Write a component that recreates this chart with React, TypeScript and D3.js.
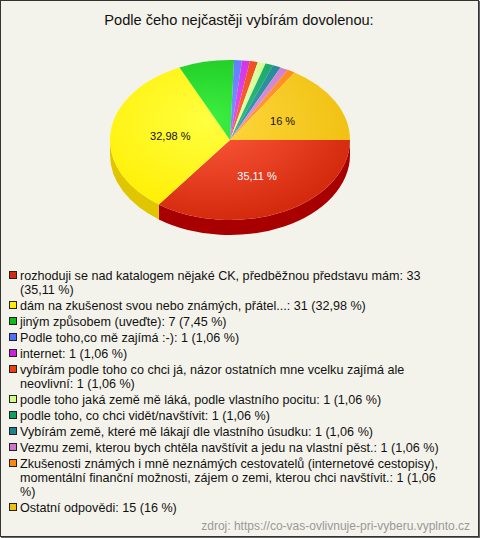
import React from "react";
import * as d3 from "d3";

const title = "Podle čeho nejčastěji vybírám dovolenou:";
const source = "zdroj: https://co-vas-ovlivnuje-pri-vyberu.vyplnto.cz";
// legend entries, split into the lines shown in the reference
const legendLines: string[][] = [
  ["rozhoduji se nad katalogem nějaké CK, předběžnou představu mám: 33", "(35,11 %)"],
  ["dám na zkušenost svou nebo známých, přátel...: 31 (32,98 %)"],
  ["jiným způsobem (uveďte): 7 (7,45 %)"],
  ["Podle toho,co mě zajímá :-): 1 (1,06 %)"],
  ["internet: 1 (1,06 %)"],
  ["vybírám podle toho co chci já, názor ostatních mne vcelku zajímá ale", "neovlivní: 1 (1,06 %)"],
  ["podle toho jaká země mě láká, podle vlastního pocitu: 1 (1,06 %)"],
  ["podle toho, co chci vidět/navštívit: 1 (1,06 %)"],
  ["Vybírám země, které mě lákají dle vlastního úsudku: 1 (1,06 %)"],
  ["Vezmu zemi, kterou bych chtěla navštívit a jedu na vlastní pěst.: 1 (1,06 %)"],
  ["Zkušenosti známých i mně neznámých cestovatelů (internetové cestopisy),", "momentální finanční možnosti, zájem o zemi, kterou chci navštívit.: 1 (1,06", "%)"],
  ["Ostatní odpovědi: 15 (16 %)"],
];
const counts = [33, 31, 7, 1, 1, 1, 1, 1, 1, 1, 1, 15];
const percents = [35.11, 32.98, 7.45, 1.06, 1.06, 1.06, 1.06, 1.06, 1.06, 1.06, 1.06, 16];
const colors = ["#d42a0e", "#ffee00", "#11bb1a", "#4f70ff", "#cc22dd", "#e84010", "#ccff88", "#11a060", "#1f8090", "#cc77cc", "#ff8811", "#f0c010"];
const lightColors = ["#ff5c3e", "#ffff40", "#3df040", "#7b95ff", "#e055f5", "#ff6a3a", "#e5ffb0", "#30c080", "#3aa0b0", "#e099e0", "#ffa040", "#ffd840"];
const sideColors = ["#a80000", "#e0c600", "#0a9010", "#3050d0", "#a010b0", "#b83000", "#a0d060", "#0a7848", "#136070", "#a050a0", "#d06000", "#c89a00"];

const W = 480, H = 538;
const cx = 230, cy = 140, rx = 120, ry = 80, depth = 15;
const FF = "'Liberation Sans', Arial, Helvetica, sans-serif";
const LEG_FS = 12.6;
const fmt = (p: number) => String(p).replace(".", ",");

export default function App() {
  const pie = d3.pie<number>().sort(null).startAngle(Math.PI / 2).endAngle(Math.PI / 2 + 2 * Math.PI);
  const arcs = pie(counts);
  const arc = d3.arc<d3.PieArcDatum<number>>().innerRadius(0).outerRadius(rx);
  const k = ry / rx;
  const pt = (t: number, dy = 0) => [cx + rx * Math.cos(t), cy + ry * Math.sin(t) + dy];

  const sides = arcs.map((a, i) => {
    const t1 = Math.max(a.startAngle - Math.PI / 2, 0);
    const t2 = Math.min(a.endAngle - Math.PI / 2, Math.PI);
    if (t2 <= t1) return null;
    const p1 = pt(t1), p2 = pt(t2), p3 = pt(t2, depth), p4 = pt(t1, depth);
    const d = `M${p1[0]},${p1[1]} A${rx},${ry} 0 0 1 ${p2[0]},${p2[1]} L${p3[0]},${p3[1]} A${rx},${ry} 0 0 0 ${p4[0]},${p4[1]} Z`;
    return <path key={i} d={d} fill={sideColors[i]} />;
  });

  const lh = 14, gap = 2;
  let y = 275;
  const legend = legendLines.map((lines, i) => {
    const y0 = y;
    y += lines.length * lh + gap;
    return (
      <g key={i}>
        <rect x={9.5} y={y0 - 3.5} width={7} height={7} fill={colors[i]} stroke="#222" strokeWidth={1} />
        {lines.map((ln, j) => (
          <text key={j} x={20} y={y0 + j * lh + 4.5} fontSize={LEG_FS} fontFamily={FF} fill="#111">{ln}</text>
        ))}
      </g>
    );
  });

  return (
    <svg width={W} height={H} style={{ position: "absolute", left: 0, top: 0 }}>
      <defs>
        {colors.map((c, i) => (
          <radialGradient key={i} id={`g${i}`} gradientUnits="userSpaceOnUse" cx={-20} cy={-30} r={150}>
            <stop offset="0" stopColor={lightColors[i]} />
            <stop offset="1" stopColor={c} />
          </radialGradient>
        ))}
      </defs>
      <rect x={0.5} y={0.5} width={W - 2} height={H - 2} fill="#f4f3eb" stroke="#333" strokeWidth={1} />
      <line x1={W - 0.5} y1={1} x2={W - 0.5} y2={H} stroke="#666" />
      <line x1={1} y1={H - 0.5} x2={W} y2={H - 0.5} stroke="#666" />
      <text x={239} y={25} textAnchor="middle" fontSize={14.6} fontFamily={FF} fill="#111">{title}</text>
      {sides}
      <g transform={`translate(${cx},${cy}) scale(1,${k})`}>
        {arcs.map((a, i) => (
          <path key={i} d={arc(a)!} fill={`url(#g${i})`} />
        ))}
      </g>
      {arcs.map((a, i) => {
        if (percents[i] < 10) return null;
        const m = (a.startAngle + a.endAngle) / 2 - Math.PI / 2;
        const x = cx + rx * 0.5 * Math.cos(m);
        const yy = cy + ry * 0.5 * Math.sin(m);
        return (
          <text key={i} x={x} y={yy + 4} textAnchor="middle" fontSize={11} fontFamily={FF} fill={i === 0 ? "#fff" : "#111"}>
            {fmt(percents[i])} %
          </text>
        );
      })}
      {legend}
      <text x={470} y={530} textAnchor="end" fontSize={12} fontFamily={FF} fill="#999">{source}</text>
    </svg>
  );
}
